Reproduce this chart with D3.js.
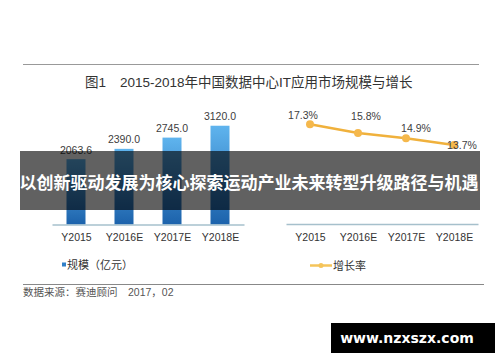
<!DOCTYPE html>
<html lang="zh">
<head>
<meta charset="UTF-8">
<title>2015-2018年中国数据中心IT应用市场规模与增长</title>
<script src="https://cdn.jsdelivr.net/npm/d3@7"></script>
<style>
  body { margin: 0; background: #fff; }
  svg { display: block; font-family: "Liberation Sans", Arial, "Noto Sans CJK SC", sans-serif; }
  .lbl { font-size: 10.5px; fill: #404040; }
  .tick { font-size: 10.5px; fill: #333; }
  .legend { font-size: 11px; fill: #333; }
</style>
</head>
<body>
<svg id="chart" width="500" height="362"></svg>
<script>
// data
let years = ['Y2015', 'Y2016E', 'Y2017E', 'Y2018E']
let marketSize = [2063.6, 2390.0, 2745.0, 3120.0]   // 亿元
let growthRate = [17.3, 15.8, 14.9, 13.7]          // %

let svg = d3.select('#chart')

// gradient for bars
let defs = svg.append('defs')
let grad = defs.append('linearGradient')
    .attr('id', 'barGrad')
    .attr('x1', 0).attr('y1', 0).attr('x2', 0).attr('y2', 1)
grad.append('stop').attr('offset', '0%').attr('stop-color', '#5fb4ee')
grad.append('stop').attr('offset', '100%').attr('stop-color', '#1c62ab')

// frame lines
svg.append('line').attr('x1', 23).attr('x2', 479).attr('y1', 64.5).attr('y2', 64.5)
    .attr('stroke', '#999').attr('stroke-width', 1)
svg.append('line').attr('x1', 23).attr('x2', 484).attr('y1', 284.5).attr('y2', 284.5)
    .attr('stroke', '#888').attr('stroke-width', 1)

// title
svg.append('text').attr('x', 85).attr('y', 86.5)
    .attr('font-size', 13.5).attr('fill', '#333')
    .text('图1')
svg.append('text').attr('x', 120).attr('y', 86.5)
    .attr('font-size', 13.5).attr('fill', '#333')
    .text('2015-2018年中国数据中心IT应用市场规模与增长')

// ---- left: bar chart ----
let xBar = d3.scalePoint().domain(years).range([52, 244]).padding(0.5)
let yBar = d3.scaleLinear().domain([0, 3500]).range([224.5, 113.7])
let barW = 19

svg.append('g').selectAll('rect').data(marketSize).join('rect')
    .attr('x', (d, i) => xBar(years[i]) - barW / 2)
    .attr('y', d => yBar(d))
    .attr('width', barW)
    .attr('height', d => yBar(0) - yBar(d))
    .attr('fill', 'url(#barGrad)')

svg.append('g').selectAll('text').data(marketSize).join('text')
    .attr('class', 'lbl')
    .attr('x', (d, i) => xBar(years[i]))
    .attr('y', d => yBar(d) - 5.5)
    .attr('text-anchor', 'middle')
    .text(d => d.toFixed(1))

let axBar = svg.append('g').attr('transform', `translate(0,${yBar(0)})`)
    .call(d3.axisBottom(xBar).tickSize(0).tickPadding(9))
axBar.select('.domain').attr('stroke', '#a6c0cc').attr('stroke-width', 1.5)
axBar.selectAll('text').attr('class', 'tick').attr('font-family', null)

// ---- right: line chart ----
let xLine = d3.scalePoint().domain(years).range([286, 478]).padding(0.5)
let yLine = d3.scaleLinear().domain([0, 20]).range([224, 108.8])
let lineColor = '#f0b13c'
let labelDx = [-7, 8, 10, 8]
let labelDy = [-5, -13, -6, 4]

svg.append('path').datum(growthRate)
    .attr('fill', 'none')
    .attr('stroke', lineColor)
    .attr('stroke-width', 2.5)
    .attr('d', d3.line().x((d, i) => xLine(years[i])).y(d => yLine(d)))

svg.append('g').selectAll('circle').data(growthRate).join('circle')
    .attr('cx', (d, i) => xLine(years[i]))
    .attr('cy', d => yLine(d))
    .attr('r', 4)
    .attr('fill', '#f5b84c')

svg.append('g').selectAll('text').data(growthRate).join('text')
    .attr('class', 'lbl')
    .attr('x', (d, i) => xLine(years[i]) + labelDx[i])
    .attr('y', (d, i) => yLine(d) + labelDy[i])
    .attr('text-anchor', 'middle')
    .text(d => d.toFixed(1) + '%')

let axLine = svg.append('g').attr('transform', `translate(0,${yLine(0)})`)
    .call(d3.axisBottom(xLine).tickSize(0).tickPadding(9.5))
axLine.select('.domain').attr('stroke', '#a6c0cc').attr('stroke-width', 1.5)
axLine.selectAll('text').attr('class', 'tick').attr('font-family', null)

// legends
svg.append('rect').attr('x', 62).attr('y', 262.5).attr('width', 4).attr('height', 4)
    .attr('fill', '#2f7fc8')
svg.append('text').attr('class', 'legend').attr('x', 67).attr('y', 269)
    .text('规模（亿元）')
svg.append('line').attr('x1', 310).attr('x2', 332).attr('y1', 265.5).attr('y2', 265.5)
    .attr('stroke', '#f5c45a').attr('stroke-width', 2.5)
svg.append('circle').attr('cx', 321).attr('cy', 265.5).attr('r', 2.5).attr('fill', '#f5c45a')
svg.append('text').attr('class', 'legend').attr('x', 333).attr('y', 269.5)
    .text('增长率')

// source
svg.append('text').attr('x', 23).attr('y', 296)
    .attr('font-size', 10.5).attr('fill', '#555')
    .text('数据来源：赛迪顾问　2017，02')

// overlay band
svg.append('rect').attr('x', 20).attr('y', 151).attr('width', 460).attr('height', 59)
    .attr('fill', '#000').attr('fill-opacity', 0.62)
svg.append('text').attr('x', 249).attr('y', 188.5)
    .attr('text-anchor', 'middle')
    .attr('font-family', '"Noto Sans CJK SC", sans-serif')
    .attr('font-weight', 'bold').attr('font-size', 17).attr('fill', '#fff')
    .text('以创新驱动发展为核心探索运动产业未来转型升级路径与机遇')

// watermark
svg.append('rect').attr('x', 331).attr('y', 323).attr('width', 164).attr('height', 30)
    .attr('fill', '#000')
svg.append('text').attr('x', 407).attr('y', 343)
    .attr('text-anchor', 'middle')
    .attr('font-family', '"DejaVu Sans", sans-serif')
    .attr('font-weight', 'bold').attr('font-size', 14).attr('fill', '#fff')
    .text('www.nzxszx.com')
</script>
</body>
</html>
